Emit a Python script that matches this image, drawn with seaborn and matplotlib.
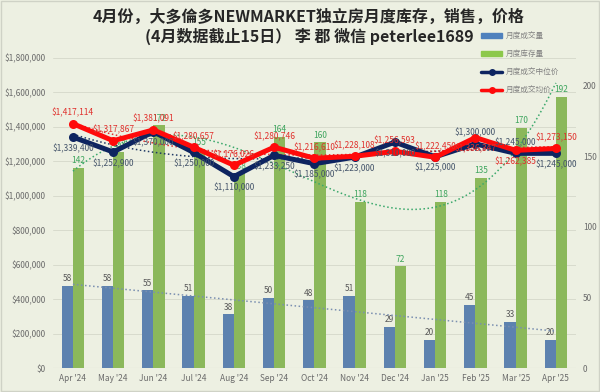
import numpy as np
import pandas as pd
import matplotlib.pyplot as plt
import seaborn as sns
from matplotlib.patches import Patch
from matplotlib.lines import Line2D

# datos
months = ["Apr '24", "May '24", "Jun '24", "Jul '24", "Aug '24", "Sep '24", "Oct '24",
          "Nov '24", "Dec '24", "Jan '25", "Feb '25", "Mar '25", "Apr '25"]
sales = [58, 58, 55, 51, 38, 50, 48, 51, 29, 20, 45, 33, 20]
inventory = [142, 153, 172, 155, 138, 164, 160, 118, 72, 118, 135, 170, 192]
median_price = [1339400, 1252900, 1370000, 1250000, 1110000, 1233250, 1185000,
                1223000, 1310000, 1225000, 1300000, 1245000, 1245000]
avg_price = [1417114, 1317867, 1381091, 1280657, 1176026, 1280746, 1216610,
             1228108, 1256593, 1222450, 1336347, 1262385, 1273150]

title1 = "4月份，大多倫多NEWMARKET独立房月度库存，销售，价格"
title2 = "(4月数据截止15日） 李 郡 微信 peterlee1689"
labels = ["月度成交量", "月度库存量", "月度成交中位价", "月度成交均价"]

bg = "#edf0e2"
c_blue, c_green = "#4f81bd", "#8cc84b"
c_navy, c_red = "#0d2460", "#ff0a0a"
gray = "#6b6b6b"

sns.set_style("white")
plt.rcParams["font.family"] = ["Noto Sans CJK SC", "DejaVu Sans"]

fig = plt.figure(figsize=(6, 3.92), dpi=100, facecolor=bg)
fig.patches.append(plt.Rectangle((0.002, 0.002), 0.996, 0.996, transform=fig.transFigure,
                                 fill=False, edgecolor="#cfd2c6", linewidth=1))

ax_bars = fig.add_axes([0.088, 0.061, 0.872, 0.792], facecolor=bg)
ax_lines = ax_bars.twinx()
ax_lines.patch.set_visible(False)

# barras (eje derecho)
df_bars = pd.DataFrame({
    "month": months * 2,
    "value": sales + inventory,
    "serie": [labels[0]] * len(months) + [labels[1]] * len(months),
})
sns.barplot(data=df_bars, x="month", y="value", hue="serie", palette=[c_blue, c_green],
            width=0.56, dodge=True, linewidth=0, legend=False, ax=ax_bars, zorder=2)

for cont, col in zip(ax_bars.containers, ["#595959", "#3ea55e"]):
    ax_bars.bar_label(cont, padding=2, fontsize=6, color=col)

idx = np.arange(len(months))
xf = np.linspace(0, len(months) - 1, 200)

# lineas de tendencia
p = np.polyfit(idx, sales, 1)
ax_bars.plot(xf, np.polyval(p, xf), ls=":", color="#7a8fb0", lw=1.1, zorder=3)
p = np.polyfit(idx, inventory, 4)
ax_bars.plot(xf, np.polyval(p, xf), ls=":", color="#3aa86b", lw=1.1, zorder=3)

ax_bars.set_ylim(0, 220)
ax_bars.set_xlim(-0.5, len(months) - 0.5)
ax_bars.set_yticks([0, 50, 100, 150, 200])
ax_bars.set_yticks(np.linspace(0, 220, 10), minor=True)
ax_bars.grid(which="minor", axis="y", color="#d8dbcd", lw=0.7, zorder=0)
ax_bars.grid(which="major", visible=False)
ax_bars.yaxis.tick_right()
ax_bars.set_xlabel("")
ax_bars.set_ylabel("")
ax_bars.tick_params(axis="both", which="both", length=0, labelsize=6, labelcolor=gray)
ax_bars.tick_params(axis="y", pad=5)
ax_bars.tick_params(axis="x", pad=4)

# precios (eje izquierdo)
p = np.polyfit(idx, median_price, 3)
ax_lines.plot(xf, np.polyval(p, xf), ls=":", color="#1f3864", lw=1.1)
p = np.polyfit(idx, avg_price, 3)
ax_lines.plot(xf, np.polyval(p, xf), ls=":", color="#e03030", lw=1.1)

sns.lineplot(x=idx, y=median_price, color=c_navy, lw=3.6, marker="o", markersize=6.5,
             markeredgewidth=0, ax=ax_lines)
sns.lineplot(x=idx, y=avg_price, color=c_red, lw=3.6, marker="o", markersize=6.5,
             markeredgewidth=0, ax=ax_lines)

below_avg = {10, 11}
for i in idx:
    s_med = 1 if i in below_avg else -1
    ax_lines.annotate(f"${median_price[i]:,}", (i, median_price[i]), xytext=(0, 8 * s_med),
                      textcoords="offset points", ha="center", va="center",
                      fontsize=6, color="#44546a")
    ax_lines.annotate(f"${avg_price[i]:,}", (i, avg_price[i]), xytext=(0, -8 * s_med),
                      textcoords="offset points", ha="center", va="center",
                      fontsize=6, color="#e0302c")

ax_lines.set_ylim(0, 1800000)
ax_lines.set_yticks(np.arange(0, 1800001, 200000))
ax_lines.yaxis.tick_left()
ax_lines.set_yticklabels([f"${v:,}" for v in range(0, 1800001, 200000)])
ax_lines.tick_params(axis="y", length=0, labelsize=6, labelcolor=gray, pad=5)

for a in (ax_bars, ax_lines):
    for s in a.spines.values():
        s.set_visible(False)
ax_bars.axhline(0, color="#c9ccc0", lw=0.8, zorder=1)

# titulo
fig.text(0.515, 0.957, title1, ha="center", va="center", fontsize=11.5, fontweight="bold")
fig.text(0.515, 0.906, title2, ha="center", va="center", fontsize=11.5, fontweight="bold")

handles = [Patch(color=c_blue), Patch(color=c_green),
           Line2D([], [], color=c_navy, lw=2.5, marker="o", markersize=4),
           Line2D([], [], color=c_red, lw=2.5, marker="o", markersize=4)]
fig.legend(handles, labels, loc="upper left", bbox_to_anchor=(0.79, 0.935), frameon=False,
           fontsize=5.5, labelcolor="#808080", handlelength=2.8, handleheight=0.6,
           labelspacing=1.3, handletextpad=0.4)

fig.savefig("out.png", dpi=100, facecolor=bg)
